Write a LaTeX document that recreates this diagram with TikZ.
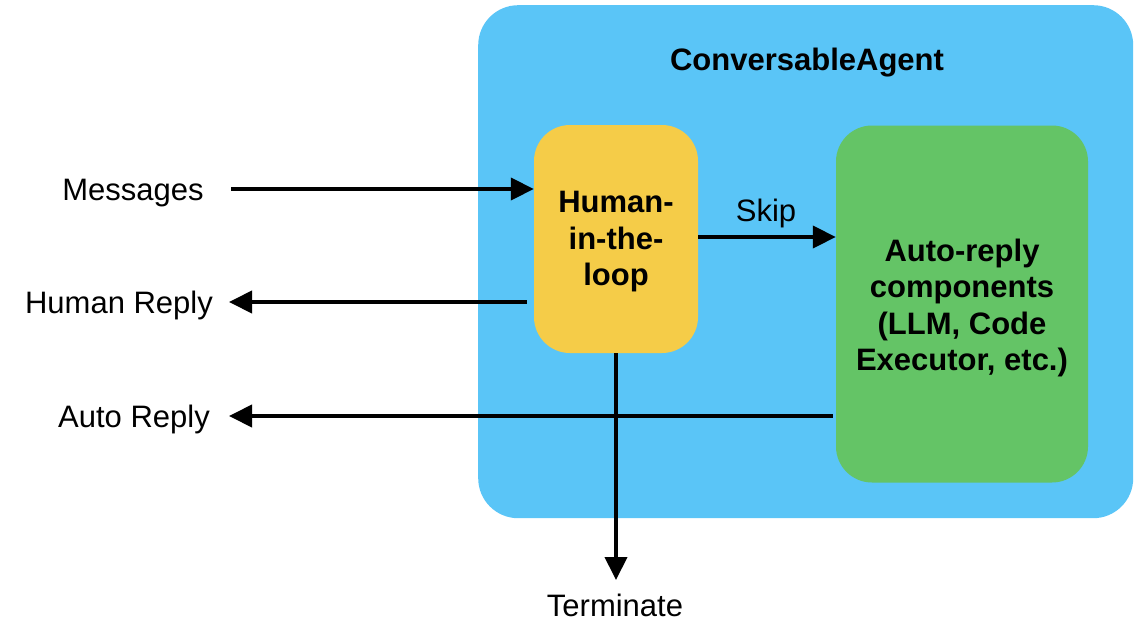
\documentclass[tikz,border=0pt]{standalone}
\usepackage{fontspec}
\setmainfont{Liberation Sans}
\usetikzlibrary{arrows.meta}
\definecolor{agentblue}{RGB}{90,197,247}
\definecolor{hilyellow}{RGB}{245,204,72}
\definecolor{autogreen}{RGB}{100,196,102}
\begin{document}
\begin{tikzpicture}[x=1pt,y=-1pt,
  lbl/.style={font=\fontsize{31}{37}\selectfont, anchor=base, inner sep=0pt},
  boxtext/.style={font=\fontsize{31}{36.5}\selectfont\bfseries, align=center},
  panel/.style={rounded corners=36pt, inner sep=0pt},
  arr/.style={line width=4pt, -{Triangle[length=23pt,width=22pt]}},
]
\useasboundingbox (0,0) rectangle (1140,624);

% agent container and its title
\node[panel, rounded corners=40pt, fill=agentblue, anchor=north west,
      minimum width=655pt, minimum height=513pt] (agent) at (478,5) {};
\node[lbl, font=\fontsize{31}{37}\selectfont\bfseries] (title) at (807,70) {ConversableAgent};

% inner components (the struts drop the text block a little)
\node[panel, boxtext, fill=hilyellow, minimum width=164pt, minimum height=228pt]
  (hil) at (616,239) {\rule{0pt}{27pt}Human-\\in-the-\\loop};
\node[panel, boxtext, fill=autogreen, minimum width=252pt, minimum height=357pt]
  (auto) at (962,304) {\rule{0pt}{30pt}Auto-reply\\components\\(LLM, Code\\Executor, etc.)};

% outside labels
\node[lbl] (msg)  at (133,200) {Messages};
\node[lbl] (hr)   at (119,313) {Human Reply};
\node[lbl] (ar)   at (134,427) {Auto Reply};
\node[lbl] (term) at (615,616) {Terminate};
\node[lbl] (skip) at (766,221) {Skip};

% free ends of the connectors
\coordinate (msgfrom) at (231,189);
\coordinate (hrtip)   at (229,302);
\coordinate (artip)   at (229,416);
\coordinate (termtip) at (616,580);

% connectors
\draw[arr] (msgfrom) -- (msgfrom -| hil.west);
\draw[arr] (hil.east |- 0,237) -- (auto.west |- 0,237);
\draw[arr] ([xshift=-7pt]hil.west |- hrtip) -- (hrtip);
\draw[arr] ([xshift=-3pt]auto.west |- artip) -- (artip);
\draw[arr] (hil.south) -- (hil.south |- termtip);
\end{tikzpicture}
\end{document}
